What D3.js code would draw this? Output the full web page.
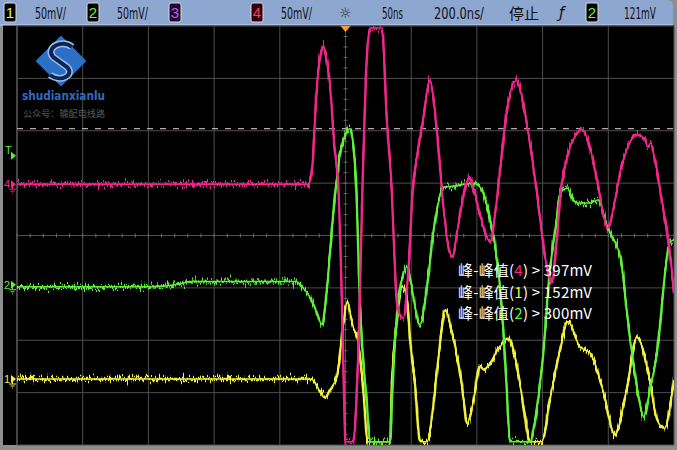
<!DOCTYPE html>
<html>
<head>
<meta charset="utf-8">
<script src="https://cdn.jsdelivr.net/npm/d3@7"></script>
<style>
body { margin: 0; background: #8e8e8e; }
svg { display: block; }
</style>
</head>
<body>
<svg id="scope" width="677" height="450"></svg>
<script>
// time in ns (screen centre = 0), level in mV (screen centre = 0)
const ch4Pink = [
	[-1000, 49], [-114, 49], [-108, 52], [-102, 63], [-87, 142], [-75, 175], [-68, 181], [-60, 172],
	[-47, 142], [-32, 79], [-23, 53], [-12, -50], [-4, -160], [0, -197], [23, -197], [27, -190],
	[40, -100], [53, 63], [62, 150], [70, 190], [75, 198], [111, 198], [126, 110], [139, 53],
	[157, -64], [170, -78], [176, -79], [190, -40], [205, 45], [220, 80], [236, 110], [257, 148],
	[275, 110], [297, 31], [310, -5], [327, -21], [339, 2], [360, 40], [379, 56], [390, 45],
	[411, 18], [432, -3], [441, -6], [457, 25], [471, 63], [492, 120], [510, 145], [521, 148],
	[535, 135], [550, 110], [563, 85], [583, 40], [603, -11], [620, -40], [628, -45], [640, -15],
	[655, 41], [675, 75], [700, 95], [722, 101], [740, 88], [768, 50], [785, 20], [798, 7],
	[815, 25], [838, 63], [860, 85], [890, 96], [910, 92], [920, 85], [929, 88], [940, 75],
	[966, 27], [985, -10], [997, -45], [1000, -55]
];
const ch2Green = [
	[-1000, -49], [-600, -49], [-500, -46], [-470, -44], [-150, -44], [-139, -47], [-108, -59],
	[-87, -74], [-72, -85], [-56, -49], [-41, 8], [-28, 50], [-12, 85], [0, 97], [14, 102],
	[24, 85], [32, 50], [44, -64], [65, -160], [75, -197], [136, -197], [141, -160], [160, -64],
	[175, -38], [187, -30], [198, -42], [205, -55], [227, -85], [248, -49], [266, -1], [285, 35],
	[297, 46], [349, 48], [388, 50], [410, 46], [432, 27], [457, -14], [471, -52], [486, -119],
	[502, -197], [563, -197], [572, -185], [603, -109], [620, -40], [640, 10], [655, 41], [676, 45],
	[690, 35], [707, 31], [746, 31], [768, 34], [798, 8], [838, -23], [859, -80], [890, -150],
	[908, -173], [925, -150], [948, -112], [987, -7], [1000, -4]
];
const ch1Yellow = [
	[-1000, -137], [-110, -137], [-99, -138], [-80, -148], [-62, -155], [-47, -147], [-26, -135],
	[-11, -97], [5, -64], [23, -87], [38, -100], [53, -144], [68, -197], [136, -197], [141, -144],
	[157, -80], [172, -49], [187, -59], [196, -97], [212, -144], [227, -197], [248, -197],
	[279, -128], [294, -87], [303, -71], [327, -97], [355, -144], [370, -179], [388, -160],
	[410, -125], [419, -128], [471, -106], [495, -98], [522, -125], [540, -160], [563, -197],
	[598, -197], [622, -157], [653, -109], [677, -82], [713, -106], [744, -112], [783, -147],
	[820, -190], [856, -147], [887, -97], [926, -138], [948, -176], [972, -184], [997, -144],
	[1000, -138]
];

// ground markers on the left edge (screen mV)
const groundMarks = [
	{ ch: "4", mv: 49, color: "#f0288c" },
	{ ch: "2", mv: -47, color: "#5ef03a" },
	{ ch: "1", mv: -137, color: "#f2f23c" }
];
const triggerMark = 79;      // "T" marker
const triggerLevel = 102;    // dashed line

const statusBoxes = [
	{ x: 4, ch: "1", color: "#e8f050", bg: "#000" },
	{ x: 87, ch: "2", color: "#6ef040", bg: "#000" },
	{ x: 169, ch: "3", color: "#b060e0", bg: "#200830" },
	{ x: 251, ch: "4", color: "#f04060", bg: "#300010" },
	{ x: 586, ch: "2", color: "#6ef040", bg: "#000" }
];
const statusTexts = [
	{ x: 35, text: "50mV/", len: 31 },
	{ x: 117, text: "50mV/", len: 31 },
	{ x: 281, text: "50mV/", len: 31 },
	{ x: 382, text: "50ns", len: 21 },
	{ x: 434, text: "200.0ns/", len: 50 },
	{ x: 624, text: "121mV", len: 32 }
];
const measurements = [
	{ ch: "4", value: "397mV", color: "#f0288c" },
	{ ch: "1", value: "152mV", color: "#f2f23c" },
	{ ch: "2", value: "300mV", color: "#5ef03a" }
];

const svg = d3.select("#scope");
const plot = { left: 17, right: 674, top: 26, bottom: 445 };

let x = d3.scaleLinear().domain([-1000, 1000]).range([plot.left, plot.right]);
let y = d3.scaleLinear().domain([-200, 200]).range([plot.bottom, plot.top]);

// frame
svg.append("rect").attr("width", 677).attr("height", 450).attr("fill", "#8e8e8e");
svg.append("rect").attr("x", 3).attr("y", 25).attr("width", 671).attr("height", 420).attr("fill", "#000");

// status bar
svg.append("path")
	.attr("d", "M0,0 H667 Q673,0 673,6 V25 H0 Z")
	.attr("fill", "#8ea7d1");
svg.append("line").attr("x1", 0).attr("x2", 673).attr("y1", 25).attr("y2", 25)
	.attr("stroke", "#c9d5ec").attr("stroke-width", 1);

const defs = svg.append("defs");
defs.append("clipPath").attr("id", "plotClip")
	.append("rect")
	.attr("x", plot.left).attr("y", plot.top)
	.attr("width", plot.right - plot.left).attr("height", plot.bottom - plot.top);

// jitter filter gives the trace its sampled noise look
const jitter = defs.append("filter").attr("id", "jitter")
	.attr("filterUnits", "userSpaceOnUse")
	.attr("x", 0).attr("y", 0).attr("width", 677).attr("height", 450);
jitter.append("feTurbulence").attr("type", "fractalNoise")
	.attr("baseFrequency", "1.3 0.06").attr("numOctaves", 2).attr("seed", 7).attr("result", "n");
jitter.append("feColorMatrix").attr("in", "n").attr("type", "matrix")
	.attr("values", "0 0 0 0 0.5  0 1 0 0 0  0 0 1 0 0  0 0 0 0 1").attr("result", "m");
jitter.append("feDisplacementMap").attr("in", "SourceGraphic").attr("in2", "m")
	.attr("scale", 16).attr("xChannelSelector", "R").attr("yChannelSelector", "G");

// grid
const g = svg.append("g");
const xTicks = d3.range(-1000, 1001, 200);
const yTicks = d3.range(-200, 201, 50);
g.selectAll(".vgrid").data(xTicks).enter().append("line")
	.attr("x1", d => x(d)).attr("x2", d => x(d))
	.attr("y1", plot.top).attr("y2", plot.bottom)
	.attr("stroke", d => d == -1000 ? "#8a8a8a" : "#4e4e4e").attr("stroke-width", 1);
g.selectAll(".hgrid").data(yTicks).enter().append("line")
	.attr("x1", plot.left).attr("x2", plot.right)
	.attr("y1", d => y(d)).attr("y2", d => y(d))
	.attr("stroke", "#4e4e4e").attr("stroke-width", 1);

// minor ticks on centre lines
g.selectAll(".xminor").data(d3.range(-1000, 1001, 40)).enter().append("line")
	.attr("x1", d => x(d)).attr("x2", d => x(d))
	.attr("y1", y(0) - 2).attr("y2", y(0) + 2)
	.attr("stroke", "#6a6a6a");
g.selectAll(".yminor").data(d3.range(-200, 201, 10)).enter().append("line")
	.attr("x1", x(0) - 2).attr("x2", x(0) + 2)
	.attr("y1", d => y(d)).attr("y2", d => y(d))
	.attr("stroke", "#6a6a6a");

// trigger level
g.append("line")
	.attr("x1", plot.left).attr("x2", plot.right)
	.attr("y1", y(triggerLevel)).attr("y2", y(triggerLevel))
	.attr("stroke", "#b9a9a9").attr("stroke-width", 1.3)
	.attr("stroke-dasharray", "6,7");

// traces
const line = d3.line()
	.x(d => x(d[0]))
	.y(d => y(d[1]))
	.curve(d3.curveMonotoneX);

const traces = svg.append("g").attr("clip-path", "url(#plotClip)");
[[ch1Yellow, "#f2f23c"], [ch2Green, "#5ef03a"], [ch4Pink, "#f0288c"]].forEach(function (t) {
	traces.append("path")
		.datum(t[0])
		.attr("d", line)
		.attr("fill", "none")
		.attr("stroke", t[1])
		.attr("stroke-width", 1.5);
	traces.append("path")
		.datum(t[0])
		.attr("d", line)
		.attr("fill", "none")
		.attr("stroke", t[1])
		.attr("stroke-width", 2.4)
		.attr("filter", "url(#jitter)");
});

// trigger position marker at top
svg.append("path")
	.attr("d", "M" + (x(0) - 5) + "," + (plot.top) + " h10 l-5,6 Z")
	.attr("fill", "#f5a030");

// left edge markers
groundMarks.forEach(function (m) {
	let yy = y(m.mv);
	svg.append("text").attr("x", 4).attr("y", yy + 4)
		.attr("fill", m.color).style("font-family", "Liberation Sans").style("font-size", "11px")
		.text(m.ch);
	svg.append("path").attr("d", "M11," + (yy - 4) + " l5,4 l-5,4 Z").attr("fill", m.color);
	svg.append("path")
		.attr("d", "M9," + (yy + 5) + " h7 M12.5," + (yy + 1) + " v4 M10.5," + (yy + 7) + " h4 M12," + (yy + 9) + " h1")
		.attr("stroke", m.color).attr("stroke-width", 1).attr("fill", "none");
});
svg.append("text").attr("x", 5).attr("y", y(triggerMark) + 1)
	.attr("fill", "#5ef03a").style("font-family", "Liberation Sans").style("font-size", "11px")
	.text("T");
svg.append("path").attr("d", "M11," + (y(triggerMark) - 1) + " l5,4 l-5,4 Z").attr("fill", "#5ef03a");

// logo
const logo = svg.append("g").attr("transform", "translate(61,61)");
logo.append("rect").attr("x", -18).attr("y", -18).attr("width", 36).attr("height", 36)
	.attr("transform", "rotate(45)").attr("fill", "#2c6fc6");
logo.append("path")
	.attr("d", "M11,-14 C2,-22 -16,-14 -8,-4 L6,6 C14,14 0,22 -11,14")
	.attr("fill", "none").attr("stroke", "#9cc0ec").attr("stroke-width", 7);
logo.append("path")
	.attr("d", "M11,-14 C2,-22 -16,-14 -8,-4 L6,6 C14,14 0,22 -11,14")
	.attr("fill", "none").attr("stroke", "#0d2550").attr("stroke-width", 4);
svg.append("text").attr("x", 22).attr("y", 100)
	.attr("fill", "#2f6cc0").style("font-family", "DejaVu Sans").style("font-weight", "bold")
	.style("font-size", "12px").attr("textLength", 83).attr("lengthAdjust", "spacingAndGlyphs")
	.text("shudianxianlu");
svg.append("text").attr("x", 23).attr("y", 117)
	.attr("fill", "#5a5a5a").style("font-family", "Noto Sans CJK SC")
	.style("font-size", "9px").attr("textLength", 82).attr("lengthAdjust", "spacingAndGlyphs")
	.text("公众号：输配电线路");

// measurements
measurements.forEach(function (m, i) {
	let t = svg.append("text").attr("x", 458).attr("y", 276 + i * 21.5)
		.attr("fill", "#ffffff").style("font-family", "Noto Sans CJK SC").style("font-size", "15px")
		.attr("textLength", 134).attr("lengthAdjust", "spacing");
	t.append("tspan").text("峰-峰值(");
	t.append("tspan").attr("fill", m.color).text(m.ch);
	t.append("tspan").text(") > " + m.value);
});

// status bar content
statusBoxes.forEach(function (b) {
	svg.append("rect").attr("x", b.x).attr("y", 3).attr("width", 12).attr("height", 19).attr("rx", 2)
		.attr("fill", b.bg).attr("stroke", "#d8d8d8").attr("stroke-width", 1);
	svg.append("text").attr("x", b.x + 6).attr("y", 18).attr("text-anchor", "middle")
		.attr("fill", b.color).style("font-family", "Liberation Sans").style("font-size", "15px")
		.text(b.ch);
});
statusTexts.forEach(function (s) {
	svg.append("text").attr("x", s.x).attr("y", 19)
		.attr("fill", "#101010").style("font-family", "DejaVu Sans").style("font-size", "15px")
		.attr("textLength", s.len).attr("lengthAdjust", "spacingAndGlyphs")
		.text(s.text);
});
svg.append("text").attr("x", 339).attr("y", 18)
	.attr("fill", "#2a2a2a").style("font-family", "DejaVu Sans").style("font-size", "14px")
	.text("☼");
svg.append("text").attr("x", 509).attr("y", 19)
	.attr("fill", "#101010").style("font-family", "Noto Sans CJK SC").style("font-size", "15px")
	.text("停止");
svg.append("text").attr("x", 559).attr("y", 18)
	.attr("fill", "#101010").style("font-family", "DejaVu Sans").style("font-size", "15px")
	.style("font-style", "italic").text("ƒ");
</script>
</body>
</html>
